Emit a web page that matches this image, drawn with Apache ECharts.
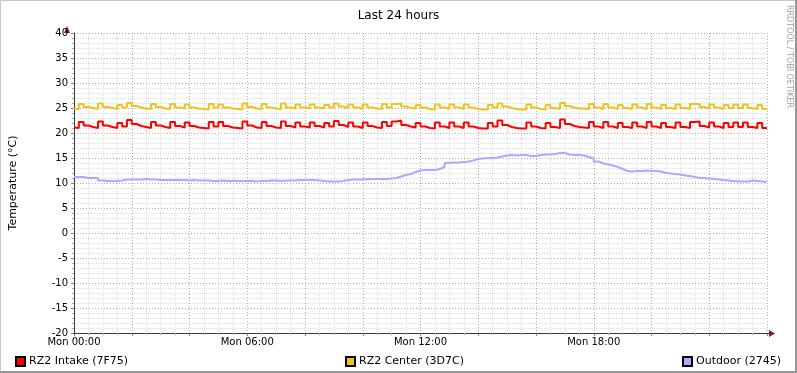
<!DOCTYPE html>
<html>
<head>
<meta charset="utf-8">
<script src="https://cdn.jsdelivr.net/npm/echarts@6/dist/echarts.min.js"></script>
<style>
  html, body { margin: 0; padding: 0; background: #fff; }
  #chart { width: 797px; height: 373px; }
</style>
</head>
<body>
<div id="chart"></div>
<script>
// samples every 10 minutes over the last 24 hours (145 points)
const stepMinutes = 10;
const timeLabels = ['Mon 00:00', 'Mon 06:00', 'Mon 12:00', 'Mon 18:00'];

const intake = [
  21.1, 21.0, 22.2, 21.5, 21.2, 21.0, 22.3, 21.5, 21.2, 21.0,
  22.0, 21.3, 22.6, 21.8, 21.4, 21.2, 21.0, 22.2, 21.5, 21.2,
  21.0, 22.2, 21.4, 21.1, 22.1, 21.4, 21.1, 21.0, 20.9, 22.2,
  21.3, 22.2, 21.4, 21.1, 21.0, 20.9, 22.3, 21.5, 21.1, 21.0,
  22.2, 21.4, 21.1, 21.0, 22.3, 21.4, 21.1, 22.1, 21.3, 21.1,
  22.1, 21.4, 21.1, 22.0, 21.3, 22.4, 21.6, 21.2, 22.1, 21.3,
  21.0, 22.1, 21.4, 21.1, 21.0, 22.2, 21.4, 22.3, 22.5, 21.6,
  21.3, 21.1, 22.0, 21.3, 21.0, 20.9, 22.1, 21.3, 21.0, 22.1,
  21.3, 21.0, 22.1, 21.3, 21.0, 20.9, 20.9, 22.0, 21.3, 22.5,
  21.6, 21.2, 21.0, 20.9, 20.9, 22.1, 21.3, 21.0, 20.9, 22.0,
  21.2, 21.0, 22.7, 21.8, 21.4, 21.2, 21.1, 21.0, 22.2, 21.3,
  21.0, 22.2, 21.3, 21.0, 22.0, 21.2, 21.0, 22.1, 21.3, 21.0,
  22.2, 21.3, 21.0, 22.0, 21.2, 21.0, 22.1, 21.2, 21.0, 22.2,
  22.3, 21.4, 21.1, 22.1, 21.3, 21.0, 22.0, 21.2, 22.1, 21.2,
  22.1, 21.2, 21.0, 22.0, 21.0
];

const center = [
  24.9, 24.8, 25.8, 25.2, 25.0, 24.8, 25.9, 25.2, 25.0, 24.8,
  25.6, 25.1, 26.0, 25.4, 25.1, 24.9, 24.8, 25.8, 25.2, 24.9,
  24.8, 25.8, 25.1, 24.9, 25.7, 25.1, 24.9, 24.8, 24.7, 25.8,
  25.1, 25.7, 25.1, 24.9, 24.8, 24.7, 25.9, 25.2, 24.9, 24.8,
  25.8, 25.1, 24.9, 24.8, 25.9, 25.1, 24.9, 25.7, 25.1, 24.9,
  25.7, 25.1, 24.9, 25.6, 25.1, 25.9, 25.3, 25.0, 25.7, 25.1,
  24.8, 25.7, 25.1, 24.9, 24.8, 25.8, 25.1, 25.8, 25.9, 25.3,
  25.0, 24.9, 25.6, 25.1, 24.8, 24.7, 25.7, 25.1, 24.8, 25.7,
  25.1, 24.8, 25.7, 25.1, 24.8, 24.7, 24.7, 25.6, 25.1, 25.9,
  25.3, 25.0, 24.8, 24.7, 24.7, 25.7, 25.1, 24.8, 24.7, 25.6,
  25.0, 24.8, 26.0, 25.4, 25.1, 24.9, 24.9, 24.8, 25.8, 25.1,
  24.8, 25.8, 25.1, 24.8, 25.6, 25.0, 24.8, 25.7, 25.1, 24.8,
  25.8, 25.1, 24.8, 25.6, 25.0, 24.8, 25.7, 25.0, 24.8, 25.8,
  25.8, 25.2, 24.9, 25.7, 25.1, 24.8, 25.6, 25.0, 25.7, 25.0,
  25.7, 25.0, 24.8, 25.6, 24.8
];

const outdoor = [
  11.2, 11.2, 11.2, 11.0, 11.0, 11.0, 10.5, 10.4, 10.4, 10.4,
  10.5, 10.7, 10.7, 10.7, 10.7, 10.8, 10.7, 10.7, 10.6, 10.6,
  10.6, 10.6, 10.6, 10.6, 10.5, 10.6, 10.5, 10.5, 10.5, 10.4,
  10.4, 10.5, 10.4, 10.4, 10.4, 10.4, 10.4, 10.4, 10.3, 10.4,
  10.4, 10.5, 10.5, 10.4, 10.5, 10.5, 10.5, 10.6, 10.6, 10.6,
  10.6, 10.5, 10.4, 10.3, 10.3, 10.3, 10.4, 10.6, 10.7, 10.7,
  10.7, 10.8, 10.8, 10.8, 10.8, 10.8, 10.9, 11.0, 11.3, 11.6,
  11.8, 12.2, 12.5, 12.6, 12.6, 12.6, 12.8, 13.2, 14.0, 14.1,
  14.1, 14.2, 14.3, 14.5, 14.8, 14.9, 15.0, 15.0, 15.1, 15.3,
  15.5, 15.6, 15.5, 15.6, 15.6, 15.4, 15.4, 15.6, 15.7, 15.7,
  15.8, 16.0, 16.0, 15.7, 15.6, 15.6, 15.5, 15.2, 14.9, 14.3,
  13.9, 13.7, 13.5, 13.2, 12.8, 12.4, 12.3, 12.4, 12.4, 12.5,
  12.4, 12.4, 12.3, 12.0, 11.9, 11.8, 11.7, 11.5, 11.4, 11.2,
  11.0, 11.0, 10.9, 10.8, 10.7, 10.6, 10.5, 10.4, 10.3, 10.3,
  10.3, 10.5, 10.4, 10.3, 10.2
];

const seriesNames = ['RZ2 Intake (7F75)', 'RZ2 Center (3D7C)', 'Outdoor (2745)'];
const seriesColors = ['#ff0000', '#eec31e', '#aaaaff'];

const toPoints = arr => arr.map((v, i) => [i * stepMinutes, v]);

const chart = echarts.init(document.getElementById('chart'), null, { renderer: 'canvas' });

const font = 'DejaVu Sans';
const majorGrid = { color: 'rgba(130,30,30,0.4)', type: [1, 2], width: 1 };
const minorGrid = { color: 'rgba(140,140,140,0.28)', type: [1, 1], width: 1 };

chart.setOption({
  animation: false,
  backgroundColor: '#ffffff',
  textStyle: { fontFamily: font },
  title: {
    text: 'Last 24 hours',
    left: 'center',
    top: 5,
    textStyle: { fontFamily: font, fontSize: 12, fontWeight: 'normal', color: '#000' }
  },
  grid: { left: 67, top: 33, width: 700, height: 300 },
  xAxis: {
    type: 'value',
    min: 0,
    max: 1440,
    interval: 120,
    axisLine: { show: true, onZero: false, lineStyle: { color: '#3a3a3a', width: 1 } },
    axisTick: { show: true, length: 3, lineStyle: { color: 'rgba(130,30,30,0.6)' } },
    minorTick: { show: true, splitNumber: 4, length: 2, lineStyle: { color: '#aaa' } },
    splitLine: { show: true, lineStyle: majorGrid },
    minorSplitLine: { show: true, lineStyle: minorGrid },
    axisLabel: {
      fontFamily: font,
      fontSize: 10,
      color: '#000',
      margin: 4,
      formatter: v => (v % 360 === 0 && v < 1440) ? timeLabels[v / 360] : ''
    }
  },
  yAxis: {
    type: 'value',
    min: -20,
    max: 40,
    interval: 5,
    name: 'Temperature (°C)',
    nameLocation: 'middle',
    nameGap: 55,
    nameTextStyle: { fontFamily: font, fontSize: 11, color: '#000' },
    axisLine: { show: true, onZero: false, lineStyle: { color: '#3a3a3a', width: 1 } },
    axisTick: { show: true, length: 3, lineStyle: { color: 'rgba(130,30,30,0.6)' } },
    minorTick: { show: true, splitNumber: 5, length: 2, lineStyle: { color: '#aaa' } },
    splitLine: { show: true, lineStyle: majorGrid },
    minorSplitLine: { show: true, lineStyle: minorGrid },
    axisLabel: { fontFamily: font, fontSize: 10, color: '#000', margin: 6 }
  },
  legend: seriesNames.map((name, i) => ({
    data: [name],
    left: [10, 340, 677][i],
    top: 351,
    icon: 'rect',
    itemWidth: 9,
    itemHeight: 9,
    itemGap: 0,
    selectedMode: false,
    textStyle: { fontFamily: font, fontSize: 11, color: '#000', padding: [0, 0, 0, -1] }
  })),
  series: [intake, center, outdoor].map((arr, i) => ({
    name: seriesNames[i],
    type: 'line',
    step: 'start',
    data: toPoints(arr),
    showSymbol: false,
    color: seriesColors[i],
    lineStyle: { color: seriesColors[i], width: 2 },
    itemStyle: { color: seriesColors[i], borderColor: '#000', borderWidth: 1 },
    z: 3 - i
  })),
  graphic: [
    // rrdtool-style frame
    { type: 'rect', shape: { x: 0.5, y: 0.5, width: 795, height: 371 },
      style: { fill: 'none', stroke: '#c8c8c8', lineWidth: 1 }, silent: true },
    { type: 'polyline', shape: { points: [[796, 0], [796, 372], [0, 372]] },
      style: { stroke: '#969696', lineWidth: 2, fill: 'none' }, silent: true },
    // axis arrows
    { type: 'line', shape: { x1: 767, y1: 333.5, x2: 770, y2: 333.5 },
      style: { stroke: '#3a3a3a', lineWidth: 1 }, silent: true },
    { type: 'polygon', shape: { points: [[67, 26], [64, 33], [70, 33]] },
      style: { fill: '#7f1f1f' }, silent: true },
    { type: 'polygon', shape: { points: [[769, 330], [769, 337], [775, 333.5]] },
      style: { fill: '#7f1f1f' }, silent: true },
    // watermark
    { type: 'text', x: 785, y: 5, rotation: -Math.PI / 2,
      style: { text: 'RRDTOOL / TOBI OETIKER', fontFamily: font, fontSize: 8, fill: '#a0a0a0',
               align: 'left', verticalAlign: 'bottom' }, silent: true }
  ]
});
</script>
</body>
</html>
